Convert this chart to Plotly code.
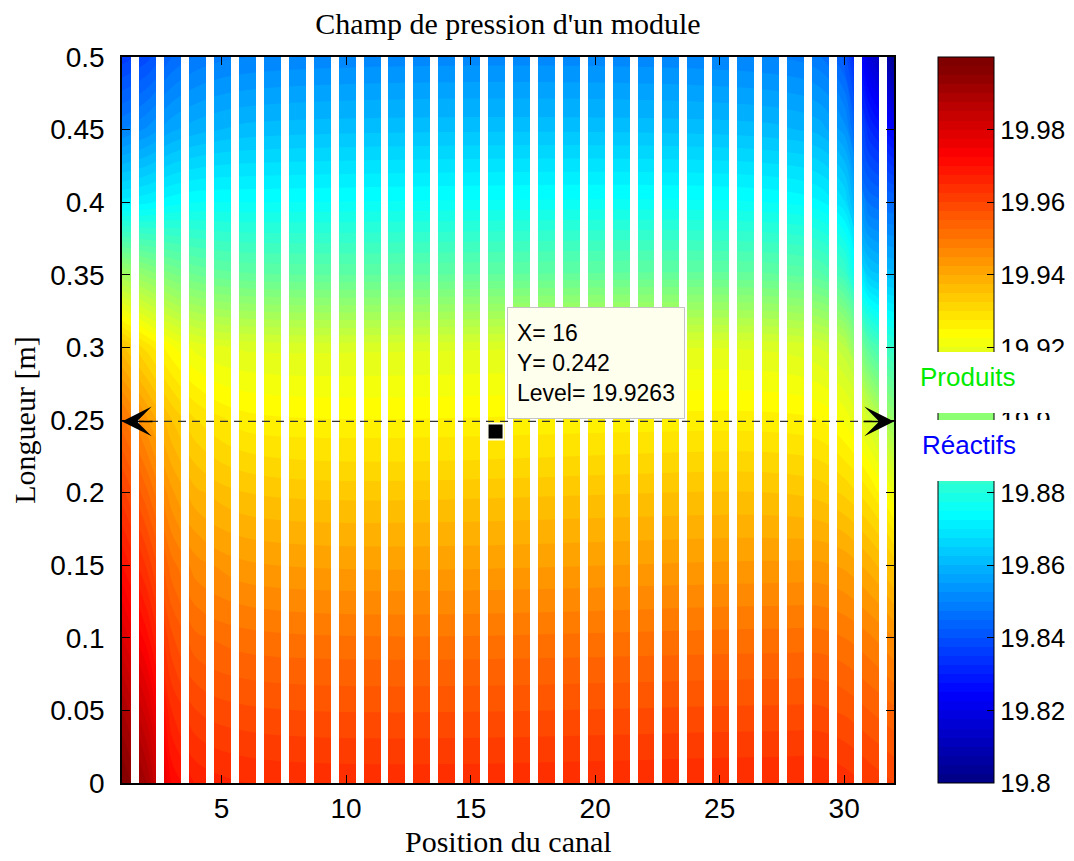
import plotly.graph_objects as go
import numpy as np

# ---------------- data ----------------
canal = list(range(1, 33))                       # channel positions
longueur = [0.0, 0.05, 0.10, 0.15, 0.20, 0.25, 0.30, 0.35, 0.40, 0.45, 0.50]

# pressure profiles (bottom -> top) read at a few channel positions
x_profils = [1, 2, 3, 4, 6, 27, 29, 30, 31, 32]
p_canal_1 = [19.998, 19.990, 19.980, 19.970, 19.961, 19.951, 19.936, 19.906, 19.871, 19.850, 19.836]
p_canal_2 = [19.990, 19.981, 19.971, 19.962, 19.953, 19.943, 19.929, 19.902, 19.872, 19.853, 19.839]
p_canal_3 = [19.972, 19.965, 19.958, 19.951, 19.943, 19.935, 19.923, 19.898, 19.874, 19.857, 19.845]
p_canal_4 = [19.967, 19.960, 19.953, 19.946, 19.938, 19.930, 19.919, 19.895, 19.875, 19.859, 19.848]
p_canal_6 = [19.965, 19.958, 19.951, 19.943, 19.935, 19.926, 19.917, 19.893, 19.875, 19.861, 19.850]
p_canal_27 = [19.965, 19.958, 19.951, 19.943, 19.935, 19.926, 19.917, 19.893, 19.875, 19.861, 19.850]
p_canal_29 = [19.965, 19.958, 19.951, 19.943, 19.934, 19.925, 19.915, 19.891, 19.873, 19.859, 19.848]
p_canal_30 = [19.964, 19.957, 19.950, 19.942, 19.932, 19.922, 19.911, 19.886, 19.868, 19.854, 19.842]
p_canal_31 = [19.962, 19.955, 19.948, 19.939, 19.928, 19.915, 19.891, 19.864, 19.847, 19.833, 19.818]
p_canal_32 = [19.960, 19.953, 19.945, 19.934, 19.920, 19.903, 19.883, 19.861, 19.845, 19.824, 19.803]

# channel geometry (fraction of pitch) : channel occupies [k-0.30, k+0.38]
canal_gauche = 0.30
canal_droite = 0.38

# colour scale ticks
cb_ticks = [19.8, 19.82, 19.84, 19.86, 19.88, 19.9, 19.92, 19.94, 19.96, 19.98]
cb_labels = ["19.8", "19.82", "19.84", "19.86", "19.88", "19.9", "19.92", "19.94", "19.96", "19.98"]
x_ticks = [5, 10, 15, 20, 25, 30]
y_ticks = [0, 0.05, 0.1, 0.15, 0.2, 0.25, 0.3, 0.35, 0.4, 0.45, 0.5]
y_ticklabels = ["0", "0.05", "0.1", "0.15", "0.2", "0.25", "0.3", "0.35", "0.4", "0.45", "0.5"]

# data tip + section line
tip_x, tip_y, tip_level = 16, 0.242, 19.9263
section_y = 0.249

# ---------------- figure ----------------
z = np.array([p_canal_1, p_canal_2, p_canal_3, p_canal_4, p_canal_6, p_canal_27,
              p_canal_29, p_canal_30, p_canal_31, p_canal_32]).T

jet = [[0.0, "rgb(0,0,131)"], [0.125, "rgb(0,0,255)"], [0.375, "rgb(0,255,255)"],
       [0.625, "rgb(255,255,0)"], [0.875, "rgb(255,0,0)"], [1.0, "rgb(128,0,0)"]]

fig = go.Figure()

# the page body adds an 8px margin: the figure is sized to fit inside it without scrolling
OFF = 8
W, H = 1074 - 2 * OFF, 861 - 2 * OFF
L, T = 122 - OFF, 57 - OFF
R = (1074 - OFF) - 894
B = (861 - OFF) - 783
pw, ph = W - L - R, H - T - B

def px2paper_x(px):          # window pixel -> paper fraction
    return (px - OFF - L) / pw

def px2paper_y(py):
    return (H - B - (py - OFF)) / ph

SANS = "Liberation Sans, Arial"
SERIF = "Liberation Serif, Times New Roman"

fig.add_trace(go.Contour(
    x=x_profils, y=longueur, z=z,
    colorscale=jet, zmin=19.8, zmax=20.0, zauto=False,
    autocontour=False,
    contours=dict(start=19.8, end=20.0, size=0.0025, coloring="fill", showlines=False),
    line=dict(width=0),
    colorbar=dict(
        x=px2paper_x(938), xanchor="left", xpad=0, ypad=0,
        y=0.5, yanchor="middle", len=1.0, lenmode="fraction",
        thickness=56, thicknessmode="pixels",
        outlinewidth=1, outlinecolor="black",
        tickvals=cb_ticks, ticktext=cb_labels,
        ticks="inside", ticklen=7, tickcolor="black", tickwidth=1,
        tickfont=dict(family=SANS, size=26, color="black"),
    ),
    hoverinfo="skip",
))

# white gaps between channels
gap_centres = [k + (canal_droite + 1 - canal_gauche) / 2 for k in canal[:-1]]
gap_width = 1 - canal_gauche - canal_droite
fig.add_trace(go.Bar(
    x=gap_centres, y=[max(longueur)] * len(gap_centres), base=0,
    width=gap_width, marker=dict(color="white", line=dict(width=0)),
    hoverinfo="skip", showlegend=False,
))

# dashed section line
fig.add_trace(go.Scatter(
    x=[canal[0], canal[-1]], y=[section_y, section_y], mode="lines",
    line=dict(color="#333333", width=1.2, dash="8px,6px"),
    hoverinfo="skip", showlegend=False,
))

# data tip marker
fig.add_trace(go.Scatter(
    x=[tip_x], y=[tip_y], mode="markers",
    marker=dict(symbol="square", size=16, color="black", line=dict(color="#fffff0", width=2)),
    hoverinfo="skip", showlegend=False,
))

annotations = []
# arrow heads
annotations.append(dict(x=canal[0] + 0.0001, y=section_y, xref="x", yref="y", ax=32, ay=0,
                        text="", showarrow=True, arrowhead=3, arrowsize=3.3, arrowwidth=1.5,
                        arrowcolor="black", standoff=0))
annotations.append(dict(x=canal[-1] - 0.0001, y=section_y, xref="x", yref="y", ax=-32, ay=0,
                        text="", showarrow=True, arrowhead=3, arrowsize=3.3, arrowwidth=1.5,
                        arrowcolor="black", standoff=0))
# data tip box
annotations.append(dict(
    x=tip_x, y=tip_y, xref="x", yref="y", xanchor="left", yanchor="bottom",
    xshift=11, yshift=13, showarrow=False, align="left",
    text=f"X= {tip_x}<br>Y= {tip_y}<br>Level= {tip_level}",
    font=dict(family=SANS, size=23, color="black"),
    bgcolor="#ffffee", bordercolor="#c4c4c4", borderwidth=1, borderpad=9,
    width=158, height=92,
))
# white boxes hiding part of the colourbar
for cy in (382.5, 450.5):
    annotations.append(dict(
        x=px2paper_x(990), y=px2paper_y(cy), xref="paper", yref="paper",
        xanchor="center", yanchor="middle", showarrow=False, text=" ",
        bgcolor="white", borderwidth=0, borderpad=0, width=150, height=61,
    ))
annotations.append(dict(
    x=px2paper_x(968), y=px2paper_y(377), xref="paper", yref="paper",
    xanchor="center", yanchor="middle", showarrow=False, text="Produits",
    font=dict(family=SANS, size=26, color="rgb(0,235,0)"),
))
annotations.append(dict(
    x=px2paper_x(969), y=px2paper_y(445), xref="paper", yref="paper",
    xanchor="center", yanchor="middle", showarrow=False, text="Réactifs",
    font=dict(family=SANS, size=26, color="rgb(0,0,255)"),
))
# x axis title
annotations.append(dict(
    x=0.5, y=px2paper_y(841), xref="paper", yref="paper",
    xanchor="center", yanchor="middle", showarrow=False, text="Position du canal",
    font=dict(family=SERIF, size=30, color="black"),
))

fig.update_layout(
    width=W, height=H,
    margin=dict(l=L, r=R, t=T, b=B, autoexpand=False),
    paper_bgcolor="white", plot_bgcolor="white",
    showlegend=False,
    title=dict(text="Champ de pression d'un module", x=0.5, xref="paper",
               y=1 - (23 - OFF) / H, yref="container", yanchor="middle", xanchor="center",
               font=dict(family=SERIF, size=30, color="black")),
    xaxis=dict(range=[canal[0], canal[-1]], tickvals=x_ticks, ticks="inside", ticklen=8,
               tickcolor="black", showline=True, linecolor="black", linewidth=1.5,
               mirror="ticks", showgrid=False, zeroline=False, automargin=False,
               ticklabelstandoff=0,
               tickfont=dict(family=SANS, size=28, color="black")),
    yaxis=dict(range=[0, 0.5], tickvals=y_ticks, ticktext=y_ticklabels, ticks="inside", ticklen=8,
               tickcolor="black", showline=True, linecolor="black", linewidth=1.5,
               mirror="ticks", showgrid=False, zeroline=False, automargin=False,
               ticklabelstandoff=10,
               tickfont=dict(family=SANS, size=28, color="black"),
               title=dict(text="Longueur [m]", standoff=8,
                          font=dict(family=SERIF, size=30, color="black"))),
    annotations=annotations,
    bargap=0,
)

fig.write_html("out.html")
